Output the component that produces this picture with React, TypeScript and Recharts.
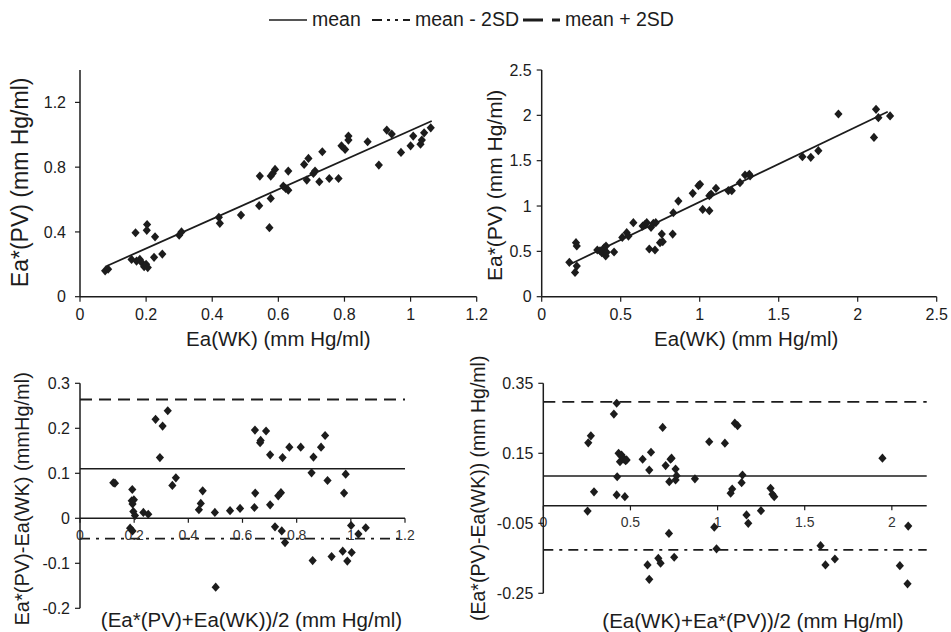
import React from 'react';
import { ScatterChart, Scatter, XAxis, YAxis, ReferenceLine } from 'recharts';

const FONT = '"Liberation Sans", Arial, Helvetica, sans-serif';
const INK = '#1c1c1c';

// ---- Panel A: Ea(WK) vs Ea*(PV), group 1 ----
const wkA = [0.076, 0.085, 0.168, 0.156, 0.171, 0.181, 0.187, 0.194, 0.202, 0.203, 0.2, 0.205, 0.227, 0.224, 0.249, 0.3, 0.307, 0.42, 0.423, 0.487, 0.544, 0.542, 0.573, 0.577, 0.577, 0.583, 0.59, 0.615, 0.622, 0.63, 0.63, 0.678, 0.691, 0.686, 0.706, 0.711, 0.724, 0.733, 0.754, 0.782, 0.791, 0.802, 0.812, 0.812, 0.87, 0.904, 0.928, 0.943, 0.971, 1.0, 1.008, 1.03, 1.034, 1.041, 1.061];
const pvA = [0.16, 0.17, 0.395, 0.23, 0.22, 0.23, 0.21, 0.185, 0.41, 0.446, 0.2, 0.18, 0.37, 0.243, 0.263, 0.38, 0.4, 0.49, 0.453, 0.504, 0.745, 0.562, 0.426, 0.607, 0.745, 0.761, 0.786, 0.683, 0.669, 0.776, 0.658, 0.817, 0.854, 0.72, 0.761, 0.776, 0.71, 0.895, 0.73, 0.73, 0.932, 0.909, 0.992, 0.967, 0.957, 0.813, 1.029, 1.004, 0.891, 0.932, 0.992, 0.942, 0.967, 1.012, 1.043];
const fitA = [{ x: 0.076, y: 0.185 }, { x: 1.064, y: 1.085 }];
const xTicksA = [0, 0.2, 0.4, 0.6, 0.8, 1, 1.2];
const yTicksA = [0, 0.4, 0.8, 1.2];

// ---- Panel B: Ea(WK) vs Ea*(PV), group 2 ----
const wkB = [0.175, 0.211, 0.222, 0.222, 0.217, 0.352, 0.369, 0.38, 0.395, 0.405, 0.407, 0.411, 0.458, 0.51, 0.538, 0.549, 0.58, 0.639, 0.654, 0.665, 0.681, 0.692, 0.707, 0.717, 0.722, 0.749, 0.76, 0.766, 0.833, 0.829, 0.865, 0.956, 0.992, 1.002, 1.019, 1.061, 1.061, 1.072, 1.103, 1.181, 1.203, 1.255, 1.287, 1.314, 1.319, 1.65, 1.703, 1.751, 1.878, 2.103, 2.116, 2.131, 2.205];
const pvB = [0.379, 0.268, 0.338, 0.559, 0.596, 0.515, 0.507, 0.485, 0.54, 0.449, 0.559, 0.489, 0.493, 0.654, 0.706, 0.669, 0.816, 0.779, 0.798, 0.816, 0.526, 0.765, 0.809, 0.515, 0.816, 0.596, 0.691, 0.607, 0.926, 0.691, 1.055, 1.14, 1.224, 1.239, 0.963, 0.949, 1.114, 1.132, 1.195, 1.169, 1.169, 1.257, 1.342, 1.349, 1.331, 1.544, 1.537, 1.61, 2.015, 1.757, 2.066, 1.974, 1.993];
const fitB = [{ x: 0.17, y: 0.35 }, { x: 2.19, y: 2.04 }];
const xTicksB = [0, 0.5, 1, 1.5, 2, 2.5];
const yTicksB = [0, 0.5, 1, 1.5, 2, 2.5];

// ---- Panel C: Bland-Altman, group 1 ----
const avgC = [0.123, 0.129, 0.185, 0.194, 0.193, 0.191, 0.199, 0.194, 0.197, 0.203, 0.234, 0.252, 0.279, 0.305, 0.295, 0.324, 0.341, 0.354, 0.439, 0.446, 0.453, 0.498, 0.501, 0.554, 0.591, 0.644, 0.647, 0.646, 0.665, 0.667, 0.687, 0.702, 0.702, 0.72, 0.732, 0.742, 0.745, 0.748, 0.757, 0.773, 0.815, 0.855, 0.862, 0.859, 0.89, 0.905, 0.914, 0.929, 0.97, 0.975, 0.981, 0.987, 1.001, 1.003, 1.028, 1.055];
const diffC = [0.079, 0.078, -0.022, -0.028, 0.064, 0.039, 0.041, 0.032, 0.015, 0.006, 0.013, 0.009, 0.22, 0.205, 0.135, 0.239, 0.073, 0.09, 0.019, 0.033, 0.061, 0.013, -0.153, 0.017, 0.022, 0.024, 0.056, 0.196, 0.168, 0.173, 0.194, 0.141, 0.03, -0.019, 0.05, 0.057, -0.028, 0.135, -0.054, 0.158, 0.158, 0.101, 0.136, -0.094, 0.158, 0.184, 0.084, -0.085, -0.073, 0.056, 0.098, -0.095, -0.016, -0.076, -0.035, -0.021];
const statsC = { mean: 0.11, lower: -0.045, upper: 0.264 };
const xTicksC = [0, 0.2, 0.4, 0.6, 0.8, 1, 1.2];
const yTicksC = [-0.2, -0.1, 0, 0.1, 0.2, 0.3];

// ---- Panel D: Bland-Altman, group 2 ----
const avgD = [0.258, 0.273, 0.254, 0.291, 0.405, 0.421, 0.424, 0.421, 0.432, 0.449, 0.455, 0.44, 0.463, 0.472, 0.478, 0.468, 0.57, 0.608, 0.618, 0.598, 0.608, 0.66, 0.673, 0.685, 0.702, 0.721, 0.723, 0.73, 0.736, 0.751, 0.759, 0.759, 0.765, 0.87, 0.952, 0.981, 0.994, 1.042, 1.075, 1.084, 1.099, 1.115, 1.138, 1.143, 1.166, 1.176, 1.249, 1.304, 1.315, 1.325, 1.591, 1.619, 1.673, 1.946, 2.046, 2.094, 2.09];
const diffD = [0.18, 0.2, -0.015, 0.04, 0.262, 0.293, 0.083, 0.031, 0.15, 0.145, 0.139, 0.126, 0.133, 0.129, 0.131, 0.026, 0.133, 0.102, 0.153, -0.169, -0.21, -0.15, -0.164, 0.224, 0.115, -0.079, 0.069, 0.133, 0.136, -0.147, 0.074, 0.105, 0.086, 0.077, 0.183, -0.061, -0.123, 0.179, 0.036, 0.048, 0.236, 0.229, 0.066, 0.088, -0.026, -0.05, -0.014, 0.05, 0.033, 0.026, -0.114, -0.169, -0.152, 0.136, -0.171, -0.058, -0.223];
const statsD = { mean: 0.085, lower: -0.126, upper: 0.297 };
const xTicksD = [0, 0.5, 1, 1.5, 2];
const yTicksD = [-0.25, -0.05, 0.15, 0.35];

const zip = (xs: number[], ys: number[]) => xs.map((x, i) => ({ x, y: ys[i] }));

const Diamond = (props: any) => {
  const { cx, cy } = props;
  if (cx == null || cy == null || isNaN(cx) || isNaN(cy)) return null;
  return <path d={`M${cx},${cy - 4.6}L${cx + 4.1},${cy}L${cx},${cy + 4.6}L${cx - 4.1},${cy}Z`} fill={INK} />;
};

const yLabel = (text: string, bx: number, dy: number, size: number) => (props: any) => {
  const vb = props.viewBox || {};
  const x = (vb.x || 0) + bx;
  const y = (vb.y || 0) + (vb.height || 0) / 2 + dy;
  return (
    <text x={x} y={y} transform={`rotate(-90 ${x} ${y})`} textAnchor="middle" fontSize={size} fontFamily={FONT} fill={INK}>
      {text}
    </text>
  );
};

const xLabel = (text: string, dx: number, by: number, size: number) => (props: any) => {
  const vb = props.viewBox || {};
  const x = (vb.x || 0) + (vb.width || 0) / 2 + dx;
  const y = (vb.y || 0) + by;
  return (
    <text x={x} y={y} textAnchor="middle" fontSize={size} fontFamily={FONT} fill={INK}>
      {text}
    </text>
  );
};

const tickText = (text: string, by: number) => (props: any) => {
  const vb = props.viewBox || {};
  const x = (vb.x || 0) + (vb.width || 0) / 2;
  const y = (vb.y || 0) + by;
  return (
    <text x={x} y={y} textAnchor="middle" fontSize={14} fontFamily={FONT} fill="#333">
      {text}
    </text>
  );
};

const tickStyle = { fontSize: 16, fill: INK, fontFamily: FONT };
const axisLine = { stroke: INK, strokeWidth: 1.5 };
const tickLine = { stroke: INK, strokeWidth: 1.2 };

const Legend = () => (
  <svg width={951} height={40} style={{ position: 'absolute', left: 0, top: 0 }}>
    <line x1={269} x2={307} y1={20} y2={20} stroke={INK} strokeWidth={1.6} />
    <text x={312} y={26} fontSize={19.5} fontFamily={FONT} fill={INK}>mean</text>
    <line x1={372} x2={410} y1={20} y2={20} stroke={INK} strokeWidth={2.2} strokeDasharray="10 5 3 5 3 5" />
    <text x={415} y={26} fontSize={19.5} fontFamily={FONT} fill={INK}>mean - 2SD</text>
    <line x1={523} x2={560} y1={20} y2={20} stroke={INK} strokeWidth={3} strokeDasharray="20 9" />
    <text x={565} y={26} fontSize={19.5} fontFamily={FONT} fill={INK}>mean + 2SD</text>
  </svg>
);

const BAticks = (ticks: number[], len: number, by: number) =>
  ticks.map((t) => (
    <ReferenceLine
      key={`t${t}`}
      segment={[{ x: t, y: 0 }, { x: t, y: -len }]}
      stroke={INK}
      strokeWidth={1.2}
      label={{ content: tickText(String(t), by) }}
    />
  ));

export default function App() {
  return (
    <div style={{ position: 'relative', width: 951, height: 632, background: '#fff', overflow: 'hidden' }}>
      <style>{`body{margin:0}`}</style>
      <Legend />

      {/* Panel A */}
      <div style={{ position: 'absolute', left: 0, top: 40 }}>
        <ScatterChart width={500} height={320} margin={{ top: 30, right: 23.3, bottom: 0, left: 0 }}>
          <XAxis type="number" dataKey="x" domain={[0, 1.2]} ticks={xTicksA} interval={0} height={63.3}
            axisLine={axisLine} tickLine={tickLine} tickSize={5} tickMargin={7} tick={tickStyle}
            label={{ content: xLabel('Ea(WK) (mm Hg/ml)', 0, 49.5, 20.5) }} />
          <YAxis type="number" dataKey="y" domain={[0, 1.4]} ticks={yTicksA} interval={0} width={80}
            axisLine={axisLine} tickLine={tickLine} tickSize={5} tickMargin={9} tick={tickStyle}
            label={{ content: yLabel('Ea*(PV) (mm Hg/ml)', 28, -1, 23) }} />
          <ReferenceLine segment={fitA} stroke={INK} strokeWidth={1.8} />
          <Scatter data={zip(wkA, pvA)} shape={Diamond} isAnimationActive={false} />
        </ScatterChart>
      </div>

      {/* Panel B */}
      <div style={{ position: 'absolute', left: 470, top: 40 }}>
        <ScatterChart width={481} height={320} margin={{ top: 30, right: 14.3, bottom: 0, left: 0 }}>
          <XAxis type="number" dataKey="x" domain={[0, 2.5]} ticks={xTicksB} interval={0} height={63.3}
            axisLine={axisLine} tickLine={tickLine} tickSize={5} tickMargin={7} tick={tickStyle}
            label={{ content: xLabel('Ea(WK) (mm Hg/ml)', 7, 49.5, 20.5) }} />
          <YAxis type="number" dataKey="y" domain={[0, 2.5]} ticks={yTicksB} interval={0} width={71.7}
            axisLine={axisLine} tickLine={tickLine} tickSize={5} tickMargin={5} tick={tickStyle}
            label={{ content: yLabel('Ea*(PV) (mm Hg/ml)', 32, 2, 21) }} />
          <ReferenceLine segment={fitB} stroke={INK} strokeWidth={1.8} />
          <Scatter data={zip(wkB, pvB)} shape={Diamond} isAnimationActive={false} />
        </ScatterChart>
      </div>

      {/* Panel C */}
      <div style={{ position: 'absolute', left: 0, top: 340 }}>
        <ScatterChart width={480} height={292} margin={{ top: 43.3, right: 75, bottom: 0, left: 0 }}>
          <XAxis type="number" dataKey="x" domain={[0, 1.2]} ticks={xTicksC} height={23.7}
            axisLine={false} tickLine={false} tick={false}
            label={{ content: xLabel('(Ea*(PV)+Ea(WK))/2 (mm Hg/ml)', 9, 18.4, 20.5) }} />
          <YAxis type="number" dataKey="y" domain={[-0.2, 0.3]} ticks={yTicksC} interval={0} width={80}
            axisLine={axisLine} tickLine={tickLine} tickSize={5} tickMargin={5} tick={tickStyle}
            label={{ content: yLabel('Ea*(PV)-Ea(WK) (mmHg/ml)', 29, 3, 20) }} />
          <ReferenceLine y={statsC.upper} stroke={INK} strokeWidth={1.8} strokeDasharray="12 7" />
          <ReferenceLine y={statsC.mean} stroke={INK} strokeWidth={1.6} />
          <ReferenceLine y={statsC.lower} stroke={INK} strokeWidth={1.8} strokeDasharray="10 6 3 6" />
          <ReferenceLine y={0} stroke={INK} strokeWidth={1.6} />
          {BAticks(xTicksC, 0.01, 22)}
          <Scatter data={zip(avgC, diffC)} shape={Diamond} isAnimationActive={false} />
        </ScatterChart>
      </div>

      {/* Panel D */}
      <div style={{ position: 'absolute', left: 460, top: 340 }}>
        <ScatterChart width={491} height={292} margin={{ top: 43.3, right: 24.3, bottom: 0, left: 0 }}>
          <XAxis type="number" dataKey="x" domain={[0, 2.2]} ticks={xTicksD} height={38.7}
            axisLine={false} tickLine={false} tick={false}
            label={{ content: xLabel('(Ea(WK)+Ea*(PV))/2 (mm Hg/ml)', 18, 34.7, 20.5) }} />
          <YAxis type="number" dataKey="y" domain={[-0.25, 0.35]} ticks={yTicksD} interval={0} width={83.3}
            axisLine={axisLine} tickLine={tickLine} tickSize={5} tickMargin={5} tick={tickStyle}
            label={{ content: yLabel('(Ea*(PV)-Ea(WK)) (mm Hg/ml)', 25, 0, 19.5) }} />
          <ReferenceLine y={statsD.upper} stroke={INK} strokeWidth={1.8} strokeDasharray="12 7" />
          <ReferenceLine y={statsD.mean} stroke={INK} strokeWidth={1.6} />
          <ReferenceLine y={statsD.lower} stroke={INK} strokeWidth={1.8} strokeDasharray="10 6 3 6" />
          <ReferenceLine y={0} stroke={INK} strokeWidth={1.6} />
          {BAticks(xTicksD, 0.013, 21)}
          <Scatter data={zip(avgD, diffD)} shape={Diamond} isAnimationActive={false} />
        </ScatterChart>
      </div>
    </div>
  );
}
